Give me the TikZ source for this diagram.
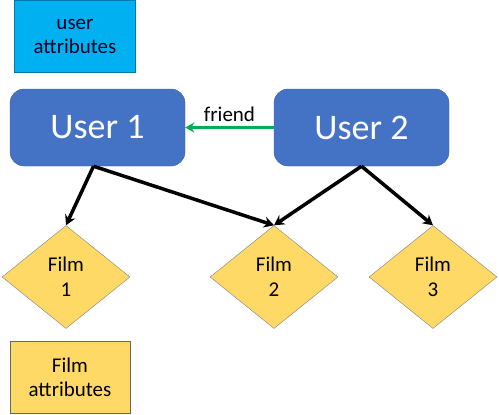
\documentclass[tikz,border=0pt]{standalone}
\usepackage{fontspec}
\setmainfont{Carlito}
\usetikzlibrary{shapes.geometric,arrows.meta}
\definecolor{attrblue}{HTML}{00B0F0}
\definecolor{userblue}{HTML}{4472C4}
\definecolor{filmyellow}{HTML}{FFD966}
\definecolor{friendgreen}{HTML}{00B050}
\tikzset{
  userbox/.style={draw=userblue!85!black,fill=userblue,rounded corners=14pt,minimum width=175pt,minimum height=77pt,text=white,font=\fontsize{36}{40}\selectfont},
  filmbox/.style={draw=gray,fill=filmyellow,diamond,inner sep=0pt,minimum width=128pt,minimum height=103pt,align=center,font=\fontsize{21}{25}\selectfont},
  attrbox/.style={draw,align=center,minimum width=121pt,minimum height=72pt,font=\fontsize{21}{24}\selectfont},
  rel/.style={line width=3.5pt,-{Stealth[length=10pt,width=11pt]}}
}
\begin{document}
\begin{tikzpicture}[x=1pt,y=-1pt]
\useasboundingbox (0,0) rectangle (499,415);
\node[attrbox,draw=attrblue!70!black,fill=attrblue,text=black!85!blue] (uattr) at (75,36.5) {user\\attributes};
\node[userbox] (user1) at (97.5,127.5) {User 1};
\node[userbox] (user2) at (361.5,127.5) {User 2};
\node[filmbox] (film1) at (66,277) {Film\\1};
\node[filmbox] (film2) at (274,277) {Film\\2};
\node[filmbox] (film3) at (433,277) {Film\\3};
\node[attrbox,draw=gray!80!black,fill=filmyellow,minimum width=120pt] (fattr) at (70,377) {Film\\attributes};
\draw[line width=3pt,friendgreen,-{Stealth[length=9pt,width=10pt]}] (user2.west) -- (user1.east) node[midway,above,text=black,font=\fontsize{21}{24}\selectfont,inner sep=4pt] {friend};
\draw[rel] ([xshift=-4pt]user1.south) -- (film1.north);
\draw[rel] ([xshift=-4pt]user1.south) -- (film2.north);
\draw[rel] (user2.south) -- (film2.north);
\draw[rel] (user2.south) -- (film3.north);
\end{tikzpicture}
\end{document}
